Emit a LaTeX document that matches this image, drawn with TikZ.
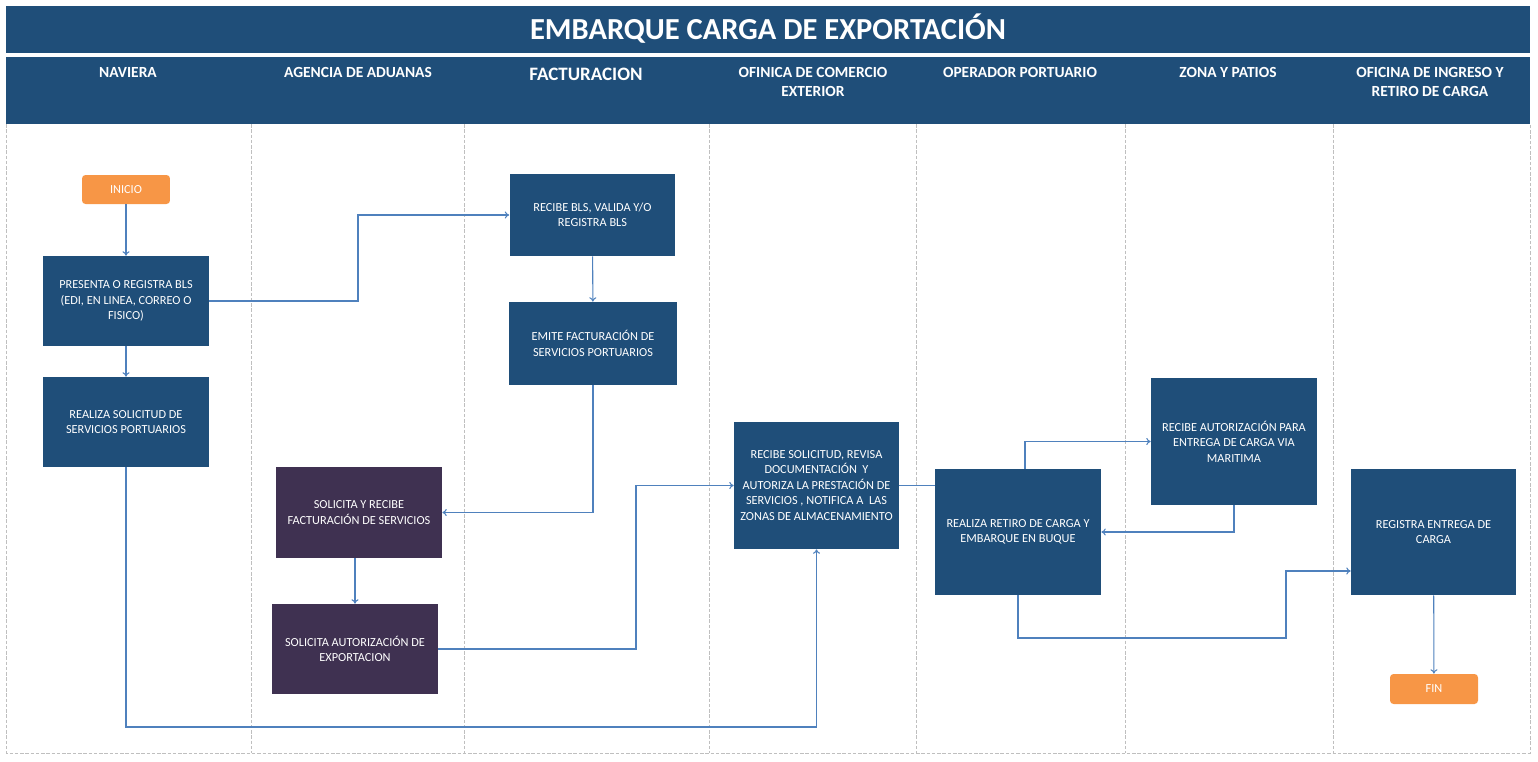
\documentclass[tikz,border=0pt]{standalone}
\usepackage{fontspec}
\setmainfont{Carlito}
\usepackage{xcolor}
\usepackage{tikz}
\usetikzlibrary{positioning,arrows.meta}

\definecolor{bannerblue}{HTML}{1F4E79}
\definecolor{taskblue}{HTML}{1F4E79}
\definecolor{taskpurple}{HTML}{3F3151}
\definecolor{termorange}{HTML}{F79646}
\definecolor{flowblue}{HTML}{4F81BD}
\definecolor{lanegray}{HTML}{BFBFBF}

\begin{document}
\begin{tikzpicture}[x=0.02cm, y=-0.02cm,
    taskbox/.style={fill=taskblue, text=white, align=center, inner sep=1pt,
      font=\fontsize{7}{8.8}\selectfont, minimum width=3.32cm, minimum height=1.8cm},
    agebox/.style={taskbox, fill=taskpurple},
    termbox/.style={fill=termorange, text=white, rounded corners=2pt, inner sep=1pt,
      font=\fontsize{7}{8.8}\selectfont, minimum width=1.76cm, minimum height=0.58cm},
    lanehead/.style={text=white, align=center, font=\fontsize{8.8}{10.8}\selectfont\bfseries},
    laneline/.style={lanegray, line width=0.4pt, dash pattern=on 2pt off 1pt},
    arrowline/.style={draw=flowblue, line width=0.6pt, -{To[length=2.5pt,width=4pt]}},
    plainline/.style={draw=flowblue, line width=0.6pt}]

    \useasboundingbox (0,0) rectangle (1538,761);

    \fill [bannerblue] (6,6) rectangle (1530,53);
    \fill [bannerblue] (6,57) rectangle (1530,124);
    \node [text=white, font=\fontsize{17.4}{20}\selectfont\bfseries] (TITLE) at (768,29) {EMBARQUE CARGA DE EXPORTACIÓN};

    \node [lanehead] (H1) at (128,72) {NAVIERA};
    \node [lanehead] (H2) at (358,72) {AGENCIA DE ADUANAS};
    \node [lanehead, font=\fontsize{10.8}{12}\selectfont\bfseries] (H3) at (586,74) {FACTURACION};
    \node [lanehead] (H4) at (813,81.5) {OFINICA DE COMERCIO\\EXTERIOR};
    \node [lanehead] (H5) at (1020,72) {OPERADOR PORTUARIO};
    \node [lanehead] (H6) at (1228,72) {ZONA Y PATIOS};
    \node [lanehead] (H7) at (1430,81.5) {OFICINA DE INGRESO Y\\RETIRO DE CARGA};

    \foreach \x in {251,464,709,916,1125,1333}
      \draw [laneline] (\x,124) to (\x,753);
    \draw [laneline] (6,124) -- (6,753) -- (1530,753) -- (1530,124);

    \coordinate (K1) at (358,215);
    \coordinate (K2) at (636,485.5);
    \coordinate (K3) at (126,727);
    \coordinate (K4) at (1286,638);

    \node [termbox] (INI) at (126,189.5) {INICIO};
    \node [taskbox] (NAV1) at (126,301) {PRESENTA O REGISTRA BLS\\(EDI, EN LINEA, CORREO O\\FISICO)};
    \node [taskbox] (NAV2) at (126,422) {REALIZA SOLICITUD DE\\SERVICIOS PORTUARIOS};
    \node [taskbox, minimum height=1.64cm] (FAC1) at (592.5,215) {RECIBE BLS, VALIDA Y/O\\REGISTRA BLS};
    \node [taskbox, minimum height=1.66cm, minimum width=3.36cm] (FAC2) at (593,343.5) {EMITE FACTURACIÓN DE\\SERVICIOS PORTUARIOS};
    \node [agebox, minimum height=1.82cm] (AGE1) at (359,512.5) {SOLICITA Y RECIBE\\FACTURACIÓN DE SERVICIOS};
    \node [agebox] (AGE2) at (355,649) {SOLICITA AUTORIZACIÓN DE\\EXPORTACION};
    \node [taskbox, minimum height=2.54cm, minimum width=3.3cm] (OFI1) at (816.5,485.5) {RECIBE SOLICITUD, REVISA\\DOCUMENTACIÓN\ \ Y\\AUTORIZA LA PRESTACIÓN DE\\SERVICIOS , NOTIFICA A\ \ LAS\\ZONAS DE ALMACENAMIENTO};
    \node [taskbox, minimum height=2.52cm] (OPE1) at (1018,532) {REALIZA RETIRO DE CARGA Y\\EMBARQUE EN BUQUE};
    \node [taskbox, minimum height=2.54cm] (ZON1) at (1234,441.5) {RECIBE AUTORIZACIÓN PARA\\ENTREGA DE CARGA VIA\\MARITIMA};
    \node [taskbox, minimum height=2.52cm, minimum width=3.3cm] (REG1) at (1433.5,532) {REGISTRA ENTREGA DE\\CARGA};
    \node [termbox, minimum height=0.6cm] (FIN) at (1434,689) {FIN};

    \draw [arrowline] (INI) to (NAV1);
    \draw [arrowline] (NAV1) to (NAV2);
    \draw [arrowline] (NAV1.east) -| (K1) -- (FAC1.west);
    \draw [arrowline] (FAC1) to (FAC2);
    \draw [arrowline] (FAC2.south) |- (AGE1.east);
    \draw [arrowline] (AGE2.north |- AGE1.south) -- (AGE2.north);
    \draw [arrowline] (AGE2.east) -| (K2) -- (OFI1.west);
    \draw [arrowline] (NAV2.south) -- (K3) -| (OFI1.south);
    \draw [plainline] (OFI1.east) -- (OFI1.east -| OPE1.west);
    \draw [arrowline] ([xshift=0.14cm]OPE1.north) |- (ZON1.west);
    \draw [arrowline] (ZON1.south) |- (OPE1.east);
    \draw [arrowline] (OPE1.south) |- (K4) |- ([yshift=-0.78cm]REG1.west);
    \draw [arrowline] (REG1) to (FIN);
  \end{tikzpicture}
\end{document}
